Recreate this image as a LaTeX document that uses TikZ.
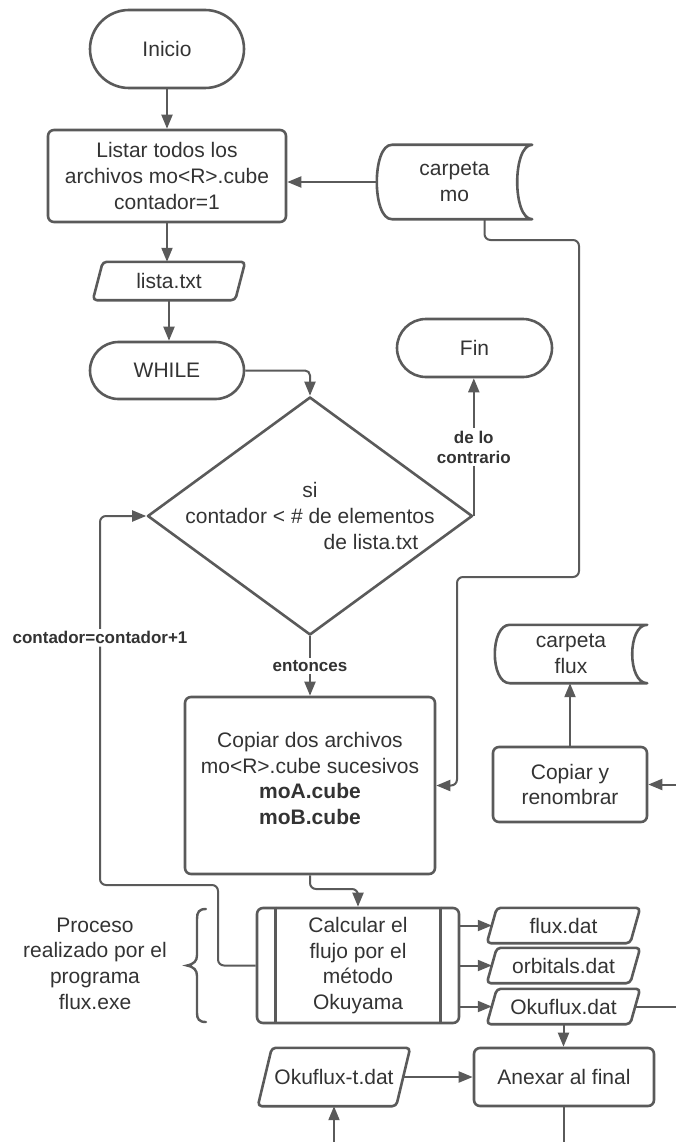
\documentclass[tikz,border=0pt]{standalone}
\usepackage{fontspec}
\setmainfont{Liberation Sans}
\usetikzlibrary{arrows.meta,shapes.geometric}
\definecolor{linegray}{HTML}{5A5A5A}
\definecolor{textgray}{HTML}{333333}
\newcommand\mainsize{\fontsize{21}{25.7}\selectfont}
\newcommand\labelsize{\fontsize{17}{20}\selectfont\bfseries}
% stored-data outline: convex left side, concave right side
\newcommand\storedoutline[1]{%
  \draw[outline] ([xshift=15pt]#1.north west) -- (#1.north east)
    .. controls ([xshift=-20pt]#1.north east) and ([xshift=-20pt]#1.south east) .. (#1.south east)
    -- ([xshift=15pt]#1.south west)
    .. controls ([xshift=-5pt]#1.south west) and ([xshift=-5pt]#1.north west) .. ([xshift=15pt]#1.north west);}
% data (parallelogram) outline, second argument is the slant
\newcommand\paraoutline[2]{%
  \draw[outline, rounded corners=4pt] ([xshift=#2]#1.north west) -- (#1.north east)
    -- ([xshift=-#2]#1.south east) -- (#1.south west) -- cycle;}
\begin{document}
\begin{tikzpicture}[x=1pt, y=-1pt,
  outline/.style={draw=linegray, line width=2.6pt, line join=round},
  txt/.style={text=textgray, font=\mainsize, align=center, inner sep=0pt},
  shapebox/.style={outline, txt},
  bare/.style={txt},
  conn/.style={draw=linegray, line width=2pt, -{Triangle[length=14pt,width=11pt]}},
  wire/.style={draw=linegray, line width=2pt},
  lbl/.style={fill=white, text=textgray, font=\labelsize, align=center, inner sep=2.5pt}]
\useasboundingbox (0,0) rectangle (676,1142);
\clip (0,0) rectangle (676,1142);

% terminals
\node[shapebox, rounded corners=39pt, minimum width=154pt, minimum height=78pt] (inicio) at (167,49) {Inicio};
\node[shapebox, rounded corners=28.5pt, minimum width=154pt, minimum height=57pt] (while) at (167,370.5) {WHILE};
\node[shapebox, rounded corners=29pt, minimum width=155pt, minimum height=58pt] (fin) at (474.5,348) {Fin};

% process boxes
\node[shapebox, rounded corners=6pt, minimum width=238pt, minimum height=92pt] (listar) at (167,176)
  {Listar todos los\\archivos mo<R>.cube\\contador=1};
\node[shapebox, rounded corners=6pt, minimum width=250pt, minimum height=177pt, text depth=14pt] (copiar) at (310,785.5)
  {Copiar dos archivos\\mo<R>.cube sucesivos\\\textbf{moA.cube}\\\textbf{moB.cube}};
\node[shapebox, rounded corners=6pt, minimum width=154pt, minimum height=75pt] (renombrar) at (570,784.5)
  {Copiar y\\renombrar};
\node[shapebox, rounded corners=6pt, minimum width=180pt, minimum height=58pt] (anexar) at (564,1077)
  {Anexar al final};

% predefined process
\node[shapebox, rounded corners=6pt, minimum width=202pt, minimum height=115pt] (proc) at (358,965.5)
  {Calcular el\\flujo por el\\método\\Okuyama};
\draw[outline] ([xshift=20pt]proc.north west) -- ([xshift=20pt]proc.south west);
\draw[outline] ([xshift=-20pt]proc.north east) -- ([xshift=-20pt]proc.south east);

% stored data
\node[bare, minimum width=155pt, minimum height=74pt] (mo) at (454.5,182) {carpeta\\mo};
\storedoutline{mo}
\node[bare, minimum width=152pt, minimum height=58pt] (cflux) at (571,654) {carpeta\\flux};
\storedoutline{cflux}

% data
\node[bare, minimum width=152pt, minimum height=38pt] (lista) at (169,281) {lista.txt};
\paraoutline{lista}{10pt}
\node[bare, minimum width=153pt, minimum height=35pt] (flux) at (563.5,925.5) {flux.dat};
\paraoutline{flux}{10pt}
\node[bare, minimum width=153pt, minimum height=35pt] (orbitals) at (563.5,965.5) {orbitals.dat};
\paraoutline{orbitals}{10pt}
\node[bare, minimum width=153pt, minimum height=35pt] (okuflux) at (563.5,1006.5) {Okuflux.dat};
\paraoutline{okuflux}{10pt}
\node[bare, minimum width=152pt, minimum height=58pt] (okuft) at (334,1077) {Okuflux-t.dat};
\paraoutline{okuft}{14pt}

% decision
\node[outline, diamond, inner sep=0pt, minimum width=325pt, minimum height=238pt] (dec) at (310,516) {};
\node[txt] (dectext) at (dec.center) {si\\contador < \# de elementos\\\hspace*{122pt}de lista.txt};

% side note with brace
\node[txt] (note) at (95,963.5) {Proceso\\realizado por el\\programa\\flux.exe};
\draw[draw=linegray, line width=2.4pt, line cap=round]
  (206,909) .. controls (199,909) and (197,912) .. (197,919) -- (197,955)
  .. controls (197,961) and (194,964) .. (187,965.5)
  .. controls (194,967) and (197,970) .. (197,976) -- (197,1013)
  .. controls (197,1019) and (199,1022) .. (206,1022);

% connectors
\draw[conn] (inicio.south) -- (listar.north);
\draw[conn] (mo.west) -- (mo.west -| listar.east);
\draw[conn] (listar.south) -- (listar.south |- lista.north);
\draw[conn] (lista.south) -- (lista.south |- while.north);
\draw[conn, rounded corners=5pt] (while.east) -| (dec.north);
\draw[conn] (dec.east) -- node[lbl]{de lo\\contrario} (dec.east |- fin.south);
\draw[conn] (dec.south) -- node[lbl]{entonces} (copiar.north);
\draw[conn, rounded corners=6pt] (484.5,219) -- (484.5,240) -- (579,240) -- (579,577)
  -- (457,577) -- (457,785.5) -- (copiar.east);
\draw[conn, rounded corners=6pt] (copiar.south) -- (310,889) -- (358,889) -- (proc.north);
\draw[conn, rounded corners=6pt] (proc.west) -- (218,965.5) -- (218,885) -- (100,885)
  -- node[lbl, pos=0.67]{contador=contador+1} (100,516) -- (dec.west);
\draw[conn] (proc.east |- flux.west) -- ([xshift=5pt]flux.west);
\draw[conn] (proc.east |- orbitals.west) -- ([xshift=5pt]orbitals.west);
\draw[conn] (proc.east |- okuflux.west) -- ([xshift=5pt]okuflux.west);
\draw[conn] (renombrar.north) -- (renombrar.north |- cflux.south);
\draw[conn] ([xshift=-5pt]okuflux.east) -- (700,1006.5) -- (700,784.5) -- (renombrar.east);
\draw[conn] (okuflux.south) -- (okuflux.south |- anexar.north);
\draw[conn] ([xshift=-7pt]okuft.east) -- (anexar.west);
\draw[conn] (anexar.south) -- (564,1170) -- (334,1170) -- (okuft.south);
\end{tikzpicture}
\end{document}
